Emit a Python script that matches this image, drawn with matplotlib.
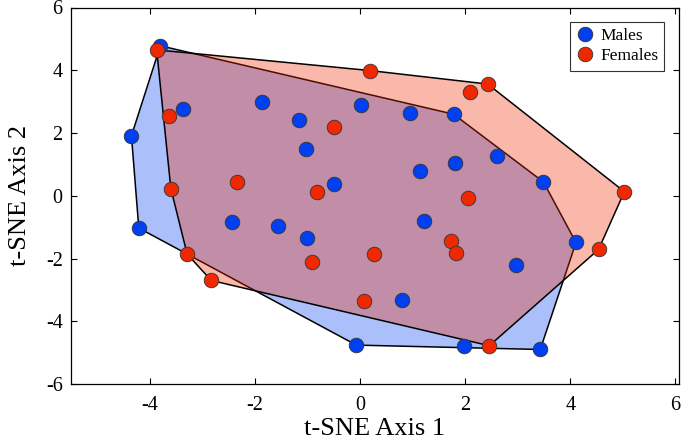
import matplotlib
matplotlib.use("Agg")
import matplotlib.pyplot as plt
import numpy as np

plt.rcParams['font.family'] = ['Liberation Serif', 'DejaVu Serif']
plt.rcParams['axes.unicode_minus'] = False

male_x = [-3.80, -1.87, 0.02, -3.37, -1.17, -4.35, -1.03, -0.50, -4.21, -2.43,
          -1.57, 0.96, 1.78, 2.61, 1.80, 1.14, 3.49, 1.21, -1.00, -0.07,
          4.11, 2.97, 0.80, 1.98, 3.43]
male_y = [4.78, 2.98, 2.88, 2.78, 2.42, 1.91, 1.50, 0.37, -1.03, -0.83,
          -0.97, 2.65, 2.60, 1.27, 1.04, 0.79, 0.44, -0.79, -1.36, -4.76,
          -1.49, -2.22, -3.33, -4.78, -4.90]
female_x = [-3.87, 0.19, -3.64, -0.50, -2.35, -3.60, -0.82, 2.43, 2.09, 5.03,
            2.05, -0.91, 0.27, -3.29, -2.83, 0.07, 1.74, 1.82, 4.54, 2.46]
female_y = [4.65, 3.99, 2.55, 2.19, 0.44, 0.23, 0.13, 3.56, 3.30, 0.13,
            -0.06, -2.10, -1.85, -1.86, -2.70, -3.35, -1.44, -1.83, -1.71, -4.78]

x_ticks = [-4, -2, 0, 2, 4, 6]
y_ticks = [-6, -4, -2, 0, 2, 4, 6]

BLUE = '#0040f0'
RED = '#f02800'


def convex_hull(xs, ys):
    pts = sorted(set(zip(xs, ys)))

    def cross(o, a, b):
        return (a[0] - o[0]) * (b[1] - o[1]) - (a[1] - o[1]) * (b[0] - o[0])

    lower = []
    for p in pts:
        while len(lower) >= 2 and cross(lower[-2], lower[-1], p) <= 0:
            lower.pop()
        lower.append(p)
    upper = []
    for p in reversed(pts):
        while len(upper) >= 2 and cross(upper[-2], upper[-1], p) <= 0:
            upper.pop()
        upper.append(p)
    return np.array(lower[:-1] + upper[:-1])


fig = plt.figure(figsize=(6.85, 4.41), dpi=100)
ax = fig.add_axes([71 / 685, 1 - 384 / 441, (679 - 71) / 685, (384 - 7.5) / 441])

hm = convex_hull(male_x, male_y)
hf = convex_hull(female_x, female_y)
ax.fill(hm[:, 0], hm[:, 1], facecolor=BLUE, alpha=0.33, edgecolor='none', zorder=1)
ax.fill(hm[:, 0], hm[:, 1], facecolor='none', edgecolor='black', linewidth=1.1, zorder=1)
ax.fill(hf[:, 0], hf[:, 1], facecolor=RED, alpha=0.33, edgecolor='none', zorder=2)
ax.fill(hf[:, 0], hf[:, 1], facecolor='none', edgecolor='black', linewidth=1.1, zorder=2)

ax.plot(male_x, male_y, 'o', color=BLUE, markersize=10.5, markeredgecolor='#333333',
        markeredgewidth=0.6, label='Males', zorder=3, linestyle='none')
ax.plot(female_x, female_y, 'o', color=RED, markersize=10.5, markeredgecolor='#333333',
        markeredgewidth=0.6, label='Females', zorder=4, linestyle='none')

ax.set_xlim(-5.5, 6.07)
ax.set_ylim(-6, 6)
ax.set_xticks(x_ticks)
ax.set_yticks(y_ticks)
ax.tick_params(direction='in', length=4, width=0.8, top=True, right=True,
               labelsize=14.5)
ax.tick_params(axis='x', pad=9)
ax.tick_params(axis='y', pad=6)
for s in ax.spines.values():
    s.set_linewidth(0.9)

ax.set_xlabel('t-SNE Axis 1', fontsize=19, labelpad=1.5)
ax.set_ylabel('t-SNE Axis 2', fontsize=19, labelpad=11)

leg = ax.legend(loc='upper right', fontsize=12.5, frameon=True, fancybox=False,
                framealpha=1, edgecolor='#333333', borderaxespad=0.85,
                handletextpad=0.3, handlelength=1.1, borderpad=0.35,
                labelspacing=0.22)
leg.get_frame().set_linewidth(0.8)

fig.savefig('out.png', dpi=100)
